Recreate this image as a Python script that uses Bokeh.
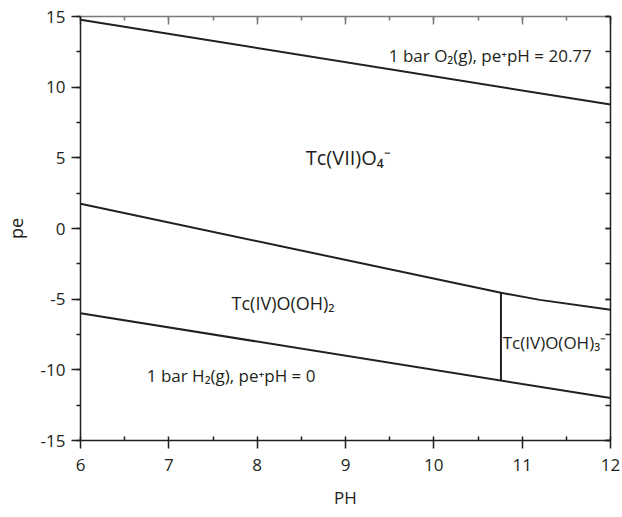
from bokeh.plotting import figure
from bokeh.models import LinearAxis, SingleIntervalTicker, Range1d, CustomJSTickFormatter
from bokeh.core.properties import value
from bokeh.embed import file_html
from bokeh.resources import INLINE

# ---- data ----
ph_o2 = [6, 12]
pe_o2 = [14.77, 8.77]
ph_h2 = [6, 12]
pe_h2 = [-6.0, -12.0]
ph_tc7_tc4 = [6, 10.76, 11.2, 12]
pe_tc7_tc4 = [1.75, -4.55, -5.05, -5.75]
ph_tc4_split = [10.76, 10.76]
pe_tc4_split = [-4.55, -10.76]

label_text = ["1 bar O\u2082(g), pe\u207apH = 20.77",
              "Tc(VII)O\u2084\u207b",
              "Tc(IV)O(OH)\u2082",
              "Tc(IV)O(OH)\u2083\u207b",
              "1 bar H\u2082(g), pe\u207apH = 0"]
label_ph = [9.49, 8.55, 7.71, 10.78, 6.75]
label_pe = [12.24, 5.0, -5.24, -8.07, -10.4]

x_title = "PH"
y_title = "pe"

FONT = "Open Sans"
INK = "#231f20"

p = figure(width=622, height=517, output_backend="svg", toolbar_location=None,
           x_range=Range1d(6, 12), y_range=Range1d(-15, 15),
           min_border_left=79, min_border_right=12, min_border_top=16, min_border_bottom=77)
p.outline_line_color = None
p.grid.visible = False
p.background_fill_color = "white"
p.border_fill_color = "white"

hyphen_fmt = CustomJSTickFormatter(code="return tick.toString();")
blank_fmt = CustomJSTickFormatter(code="return '';")

# bottom axis
xa = p.xaxis[0]
xa.ticker = SingleIntervalTicker(interval=1, num_minor_ticks=2)
xa.formatter = hyphen_fmt
xa.axis_label = x_title
xa.axis_line_color = INK
xa.major_tick_line_color = INK
xa.minor_tick_line_color = INK
xa.major_tick_out = 8
xa.major_tick_in = 0
xa.minor_tick_out = 0
xa.minor_tick_in = 4
xa.axis_line_width = 1.5
xa.major_tick_line_width = 1.5
xa.minor_tick_line_width = 1.5
xa.major_label_text_font = FONT
xa.major_label_text_font_size = "17px"
xa.major_label_text_color = INK
xa.major_label_standoff = 10
xa.axis_label_text_font = FONT
xa.axis_label_text_font_size = "17px"
xa.axis_label_text_font_style = "normal"
xa.axis_label_text_color = INK
xa.axis_label_standoff = 12

# left axis
ya = p.yaxis[0]
ya.ticker = SingleIntervalTicker(interval=5, num_minor_ticks=2)
ya.formatter = hyphen_fmt
ya.axis_label = y_title
ya.axis_line_color = INK
ya.major_tick_line_color = INK
ya.minor_tick_line_color = INK
ya.major_tick_out = 9
ya.major_tick_in = 0
ya.minor_tick_out = 4
ya.minor_tick_in = 0
ya.axis_line_width = 1.5
ya.major_tick_line_width = 1.5
ya.minor_tick_line_width = 1.5
ya.major_label_text_font = FONT
ya.major_label_text_font_size = "17px"
ya.major_label_text_color = INK
ya.major_label_standoff = 6
ya.axis_label_text_font = FONT
ya.axis_label_text_font_size = "18px"
ya.axis_label_text_font_style = "normal"
ya.axis_label_text_color = INK
ya.axis_label_standoff = 10

# top axis (grey, ticks inward, no labels)
top = LinearAxis(ticker=SingleIntervalTicker(interval=1, num_minor_ticks=2), formatter=blank_fmt)
top.axis_line_color = "#7a7a7a"
top.major_tick_line_color = "#7a7a7a"
top.minor_tick_line_color = "#7a7a7a"
top.axis_line_width = 1.5
top.major_tick_line_width = 1.5
top.minor_tick_line_width = 1.5
top.major_tick_in = 8
top.major_tick_out = 0
top.minor_tick_in = 4
top.minor_tick_out = 0
top.major_label_standoff = 0
p.add_layout(top, "above")

# right axis (ticks inward, no labels)
right = LinearAxis(ticker=SingleIntervalTicker(interval=5, num_minor_ticks=2), formatter=blank_fmt)
right.axis_line_color = INK
right.major_tick_line_color = INK
right.minor_tick_line_color = INK
right.axis_line_width = 1.5
right.major_tick_line_width = 1.5
right.minor_tick_line_width = 1.5
right.major_tick_in = 5
right.major_tick_out = 0
right.minor_tick_in = 5
right.minor_tick_out = 0
right.major_label_standoff = 0
p.add_layout(right, "right")

# boundary lines
lw = 2
p.line(ph_o2, pe_o2, line_color=INK, line_width=lw)
p.line(ph_h2, pe_h2, line_color=INK, line_width=lw)
p.line(ph_tc7_tc4, pe_tc7_tc4, line_color=INK, line_width=lw)
p.line(ph_tc4_split, pe_tc4_split, line_color=INK, line_width=lw)

sizes = ["17px", "20px", "18px", "17px", "17px"]
for t, x, y, s in zip(label_text, label_ph, label_pe, sizes):
    p.text(x=[x], y=[y], text=[t], text_font=value(FONT), text_font_size=value(s),
           text_align="left", text_baseline="middle", text_color=INK)

open("out.html", "w").write(file_html(p, INLINE))
